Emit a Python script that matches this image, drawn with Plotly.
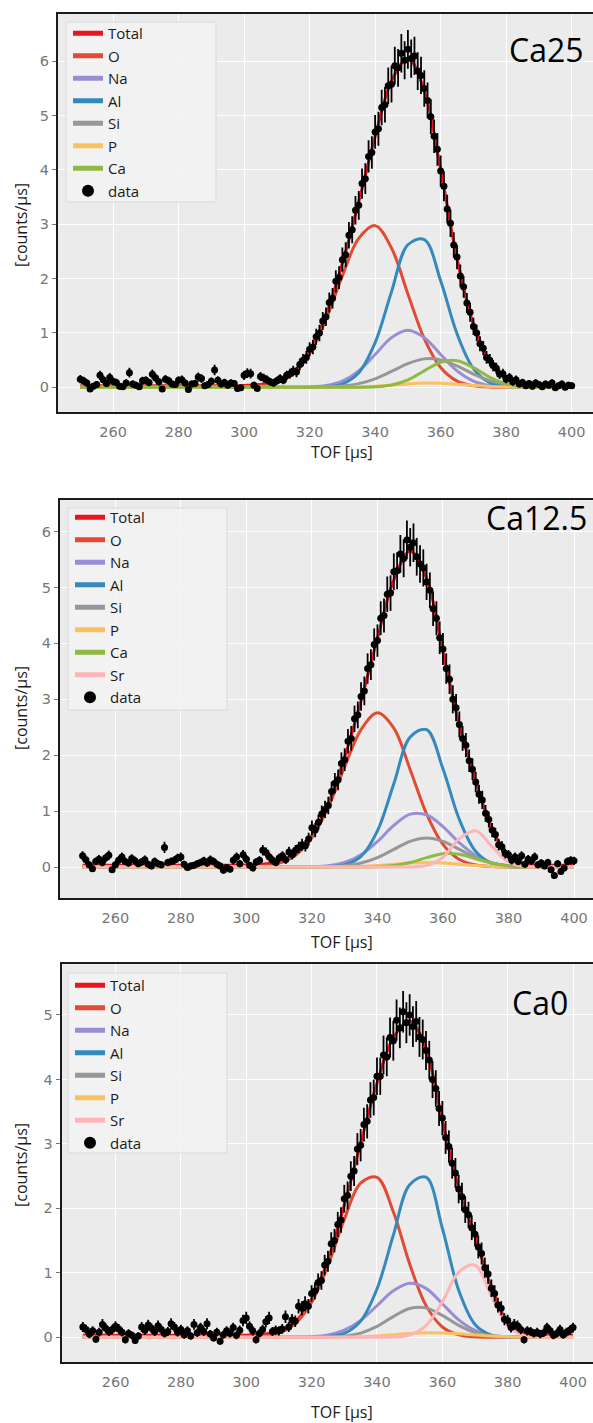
import numpy as np
import plotly.graph_objects as go

# ---------------- data ----------------
X_FIT = list(range(250, 401, 5))      # model curve grid, TOF [us]
X_DATA = list(range(250, 401, 1))     # measured bins, TOF [us]
Y_TICKS_1 = [0, 1, 2, 3, 4, 5, 6]
Y_TICKS_3 = [0, 1, 2, 3, 4, 5]
X_TICKS = [260, 280, 300, 320, 340, 360, 380, 400]
BASELINE = 0.03

Z10 = [0, 0, 0, 0, 0, 0, 0, 0, 0, 0]  # 250..295

# ---- Ca25 ----
ca25_O = Z10 + [0.005, 0.022, 0.082, 0.250, 0.619, 1.250, 2.052, 2.741, 2.976, 2.562, 1.718,
                0.896, 0.364, 0.115, 0.029, 0.006, 0.001, 0, 0, 0, 0]
ca25_Na = Z10 + [0, 0, 0.0001, 0.0012, 0.0072, 0.0329, 0.1145, 0.3019, 0.6034, 0.9142, 1.05,
                 0.9142, 0.6034, 0.3019, 0.1145, 0.0329, 0.0072, 0.0012, 0.0001, 0, 0]
ca25_Al = Z10 + [0, 0, 0, 0, 0.001, 0.0095, 0.0602, 0.2668, 0.8213, 1.760, 2.623,
                 2.720, 1.962, 0.9848, 0.3438, 0.0835, 0.0141, 0.0017, 0.0001, 0, 0]
ca25_Si = Z10 + [0, 0, 0, 0.0003, 0.0015, 0.0066, 0.0236, 0.0678, 0.1568, 0.2915, 0.4357,
                 0.5233, 0.5054, 0.3923, 0.2448, 0.1228, 0.0495, 0.0161, 0.0042, 0.0009, 0.0001]
ca25_P = Z10 + [0, 0, 0, 0, 0, 0.0005, 0.0021, 0.0071, 0.0189, 0.0389, 0.0626,
                0.0784, 0.0765, 0.0581, 0.0344, 0.0158, 0.0057, 0.0016, 0.0003, 0, 0]
ca25_Ca = Z10 + [0, 0, 0, 0, 0, 0, 0.0002, 0.0015, 0.0097, 0.044, 0.1385,
                 0.3033, 0.462, 0.4896, 0.361, 0.1852, 0.0661, 0.0164, 0.0028, 0.0003, 0]
ca25_data = [
    0.15, 0.12, 0.08, -0.03, 0.02, 0.05, 0.22, 0.14, 0.07, 0.18,
    0.11, 0.09, 0.02, 0.01, 0.08, 0.27, 0.06, 0.04, 0.01, 0.12,
    0.13, 0.09, 0.24, 0.17, 0.10, -0.03, 0.15, 0.12, 0.06, 0.05,
    0.13, 0.14, 0.08, -0.04, 0.06, 0.07, 0.19, 0.16, 0.03, 0.05,
    0.11, 0.32, 0.13, 0.06, 0.09, 0.04, 0.08, 0.07, -0.02, -0.01,
    0.22, 0.26, 0.25, 0.04, -0.02, 0.20, 0.17, 0.14, 0.10, 0.08,
    0.12, 0.16, 0.13, 0.22, 0.25, 0.30, 0.28, 0.42, 0.50, 0.55,
    0.70, 0.74, 0.93, 1.00, 1.22, 1.30, 1.56, 1.64, 1.95, 2.02,
    2.35, 2.44, 2.80, 2.90, 3.26, 3.35, 3.75, 3.84, 4.25, 4.32,
    4.70, 4.76, 5.15, 5.20, 5.55, 5.58, 5.92, 5.88, 6.15, 6.02,
    6.22, 6.05, 6.10, 5.82, 5.74, 5.50, 5.28, 4.98, 4.62, 4.38,
    3.98, 3.70, 3.28, 3.02, 2.62, 2.40, 2.05, 1.85, 1.55, 1.38,
    1.12, 1.00, 0.80, 0.72, 0.55, 0.50, 0.40, 0.35, 0.24, 0.25,
    0.15, 0.18, 0.10, 0.14, 0.06, 0.09, 0.03, 0.07, 0.02, 0.08,
    0.05, 0.01, 0.06, 0.04, 0.08, -0.01, 0.03, 0.06, 0.00, 0.04,
    0.03]

# ---- Ca12.5 ----
ca12_O = Z10 + [0.0041, 0.0187, 0.0693, 0.2109, 0.5255, 1.072, 1.793, 2.457, 2.758, 2.483, 1.741,
                0.9505, 0.4043, 0.1339, 0.0345, 0.0069, 0.0011, 0, 0, 0, 0]
ca12_Na = Z10 + [0, 0, 0.0001, 0.0009, 0.0053, 0.0234, 0.0807, 0.217, 0.455, 0.743, 0.945,
                 0.935, 0.721, 0.433, 0.2025, 0.0738, 0.021, 0.0046, 0.0008, 0.0001, 0]
ca12_Al = Z10 + [0, 0, 0, 0, 0.0005, 0.005, 0.0376, 0.1895, 0.6461, 1.490, 2.326,
                 2.457, 1.756, 0.8493, 0.2779, 0.0615, 0.0092, 0.0009, 0.0001, 0, 0]
ca12_Si = Z10 + [0, 0, 0, 0.0002, 0.0011, 0.0058, 0.0228, 0.0704, 0.1688, 0.3154, 0.4589,
                 0.52, 0.4589, 0.3154, 0.1688, 0.0704, 0.0228, 0.0058, 0.0011, 0.0002, 0]
ca12_P = Z10 + [0, 0, 0, 0, 0, 0.0009, 0.0035, 0.0108, 0.026, 0.0485, 0.0706,
                0.08, 0.0706, 0.0485, 0.026, 0.0108, 0.0035, 0.0009, 0.0002, 0, 0]
ca12_Ca = Z10 + [0, 0, 0, 0, 0, 0, 0.0001, 0.0008, 0.0056, 0.0256, 0.0796,
                 0.167, 0.2374, 0.2284, 0.1486, 0.0655, 0.0195, 0.0039, 0.0005, 0.0001, 0]
ca12_Sr = Z10 + [0, 0, 0, 0, 0, 0, 0, 0, 0, 0, 0.0017,
                 0.0259, 0.173, 0.507, 0.649, 0.364, 0.0893, 0.0096, 0.0004, 0, 0]
ca12_data = [
    0.20, 0.13, 0.04, -0.03, 0.10, 0.14, 0.08, 0.16, 0.21, -0.05,
    0.04, 0.12, 0.18, 0.10, 0.07, 0.15, 0.11, 0.06, 0.09, 0.13,
    0.05, 0.02, 0.10, 0.06, 0.04, 0.35, 0.08, 0.10, 0.12, 0.16,
    0.18, 0.05, -0.01, 0.02, 0.03, 0.06, 0.08, 0.11, 0.07, 0.13,
    0.10, 0.05, 0.02, -0.06, -0.01, -0.04, 0.12, 0.18, 0.06, 0.22,
    0.14, 0.03, -0.02, 0.09, 0.12, 0.30, 0.26, 0.18, 0.12, 0.08,
    0.16, 0.20, 0.13, 0.27, 0.22, 0.30, 0.35, 0.40, 0.38, 0.50,
    0.70, 0.66, 0.80, 0.95, 1.03, 1.10, 1.35, 1.50, 1.56, 1.85,
    1.92, 2.25, 2.30, 2.65, 2.72, 3.05, 3.15, 3.55, 3.62, 3.98,
    4.05, 4.45, 4.50, 4.88, 4.90, 5.28, 5.30, 5.60, 5.52, 5.85,
    5.72, 5.80, 5.55, 5.42, 5.35, 5.10, 4.95, 4.62, 4.45, 4.10,
    3.90, 3.55, 3.36, 3.00, 2.85, 2.55, 2.30, 2.18, 1.90, 1.75,
    1.52, 1.30, 1.20, 0.96, 0.85, 0.66, 0.58, 0.40, 0.36, 0.24,
    0.22, 0.12, 0.18, 0.10, 0.20, 0.05, 0.14, 0.11, 0.18, 0.04,
    0.07, 0.02, 0.08, -0.05, -0.15, 0.06, -0.08, -0.02, 0.10, 0.12,
    0.11]

# ---- Ca0 ----
ca0_O = Z10 + [0.0031, 0.016, 0.065, 0.2104, 0.5426, 1.116, 1.830, 2.391, 2.482, 1.948, 1.138,
               0.495, 0.160, 0.0386, 0.0069, 0.0009, 0, 0, 0, 0, 0]
ca0_Na = Z10 + [0, 0, 0.0003, 0.0021, 0.0099, 0.0372, 0.1113, 0.2626, 0.4895, 0.7206, 0.838,
                0.7583, 0.5202, 0.2706, 0.1067, 0.0319, 0.0072, 0.0012, 0.0002, 0, 0]
ca0_Al = Z10 + [0, 0, 0, 0, 0.0012, 0.010, 0.0595, 0.2512, 0.7497, 1.583, 2.365,
                2.484, 1.692, 0.7306, 0.1997, 0.0346, 0.0038, 0.0003, 0, 0, 0]
ca0_Si = Z10 + [0, 0, 0, 0.0001, 0.0006, 0.0037, 0.0182, 0.0649, 0.1688, 0.3214, 0.4475,
                0.456, 0.34, 0.1855, 0.074, 0.0216, 0.0046, 0.0007, 0.0001, 0, 0]
ca0_P = Z10 + [0, 0, 0, 0, 0.0002, 0.001, 0.0034, 0.0095, 0.0212, 0.0386, 0.0572,
               0.0689, 0.0674, 0.0537, 0.0348, 0.0184, 0.0079, 0.0027, 0.0008, 0.0002, 0]
ca0_Sr = Z10 + [0, 0, 0, 0, 0, 0, 0, 0, 0.0003, 0.0044, 0.0361,
                0.1808, 0.5489, 1.010, 1.118, 0.6406, 0.1796, 0.0247, 0.0017, 0, 0]
ca0_data = [
    0.16, 0.12, 0.05, 0.10, -0.03, 0.08, 0.20, 0.14, 0.09, 0.12,
    0.17, 0.13, 0.08, -0.04, 0.06, 0.03, -0.05, 0.02, 0.16, 0.11,
    0.19, 0.14, 0.09, 0.18, 0.12, 0.06, 0.09, 0.21, 0.16, 0.08,
    0.12, 0.04, 0.10, 0.02, 0.20, 0.07, 0.15, 0.09, 0.21, 0.05,
    -0.01, 0.08, -0.06, 0.04, 0.10, 0.06, 0.15, 0.03, 0.11, 0.26,
    0.30, 0.17, 0.10, -0.04, 0.06, 0.12, 0.24, 0.30, 0.09, 0.11,
    0.10, 0.13, 0.32, 0.16, 0.27, 0.25, 0.48, 0.45, 0.52, 0.48,
    0.68, 0.72, 0.85, 0.88, 1.12, 1.18, 1.45, 1.50, 1.75, 1.82,
    2.15, 2.20, 2.50, 2.58, 2.92, 2.98, 3.30, 3.35, 3.68, 3.72,
    4.05, 4.05, 4.38, 4.35, 4.65, 4.60, 4.92, 4.80, 5.05, 4.88,
    5.00, 4.82, 4.90, 4.66, 4.62, 4.45, 4.30, 4.00, 3.86, 3.55,
    3.40, 3.10, 2.96, 2.70, 2.55, 2.30, 2.18, 1.98, 1.90, 1.70,
    1.60, 1.40, 1.30, 1.08, 0.98, 0.76, 0.68, 0.50, 0.45, 0.28,
    0.26, 0.15, 0.20, 0.18, 0.12, -0.04, 0.10, 0.09, 0.06, 0.08,
    0.05, 0.07, 0.15, 0.10, 0.03, 0.06, 0.12, 0.04, 0.08, 0.11,
    0.15]

# Poisson-like uncertainty of the measured counts
ERR_GAIN = 0.02
ERR_FLOOR = 0.003

# ---------------- styling ----------------
W, H = 593, 1423
COLORS = {
    'Total': '#E8151F', 'O': '#E24A33', 'Na': '#988ED5', 'Al': '#348ABD',
    'Si': '#979797', 'P': '#FBC15E', 'Ca': '#8EBA42', 'Sr': '#FFB5B8',
}
TXT = '#1a1a1a'
TICK_COL = '#777777'
SANS = 'Open Sans'

panels = [
    dict(label='Ca25', comps=[('O', ca25_O), ('Na', ca25_Na), ('Al', ca25_Al), ('Si', ca25_Si),
                              ('P', ca25_P), ('Ca', ca25_Ca)],
         data=ca25_data, xpx=(58, 593), ypx=(14, 412.3), xr=(243.2, 406.5), yr=(-0.46, 6.871),
         yt=Y_TICKS_1, leg_box=(66, 22, 216, 202), leg_xy=(68, 17),
         lab_xy=(546, 49), xt_y=452, yt_y=225),
    dict(label='Ca12.5', comps=[('O', ca12_O), ('Na', ca12_Na), ('Al', ca12_Al), ('Si', ca12_Si),
                                ('P', ca12_P), ('Ca', ca12_Ca), ('Sr', ca12_Sr)],
         data=ca12_data, xpx=(60, 593), ypx=(500, 898.3), xr=(243.1, 405.8), yr=(-0.56, 6.565),
         yt=Y_TICKS_1, leg_box=(68, 508, 227, 710), leg_xy=(70, 501),
         lab_xy=(536, 517), xt_y=942, yt_y=708),
    dict(label='Ca0', comps=[('O', ca0_O), ('Na', ca0_Na), ('Al', ca0_Al), ('Si', ca0_Si),
                             ('P', ca0_P), ('Sr', ca0_Sr)],
         data=ca0_data, xpx=(61.6, 593), ypx=(964, 1362.3), xr=(243.5, 406.1), yr=(-0.388, 5.791),
         yt=Y_TICKS_3, leg_box=(68, 973, 227, 1153), leg_xy=(70, 969),
         lab_xy=(540, 1002), xt_y=1412, yt_y=1165),
]

fig = go.Figure()
layout = dict(width=W, height=H, margin=dict(l=0, r=0, t=0, b=0),
              paper_bgcolor='white', plot_bgcolor='#EBEBEB', showlegend=True,
              shapes=[], annotations=[])

for i, p in enumerate(panels):
    sfx = '' if i == 0 else str(i + 1)
    xa, ya, leg = 'x' + sfx, 'y' + sfx, 'legend' + sfx
    comp_arrays = [np.array(v, dtype=float) for _, v in p['comps']]
    total = np.sum(comp_arrays, axis=0) + BASELINE

    fig.add_trace(go.Scatter(x=X_FIT, y=total, mode='lines', name='Total',
                             line=dict(color=COLORS['Total'], width=3, shape='spline'),
                             xaxis=xa, yaxis=ya, legend=leg))
    for name, vals in p['comps']:
        fig.add_trace(go.Scatter(x=X_FIT, y=vals, mode='lines', name=name,
                                 line=dict(color=COLORS[name], width=3, shape='spline'),
                                 xaxis=xa, yaxis=ya, legend=leg))
    yd = np.array(p['data'], dtype=float)
    err = np.sqrt(ERR_GAIN * np.clip(yd, 0, None) + ERR_FLOOR)
    fig.add_trace(go.Scatter(x=X_DATA, y=yd, mode='markers', name='data',
                             marker=dict(color='black', size=7),
                             error_y=dict(type='data', array=err, color='black',
                                          thickness=1.8, width=0),
                             xaxis=xa, yaxis=ya, legend=leg))

    x0, x1 = p['xpx']
    y0, y1 = p['ypx']
    layout['xaxis' + sfx] = dict(
        domain=[x0 / W, x1 / W], range=list(p['xr']), anchor=ya,
        tickvals=X_TICKS, ticks='outside', ticklen=5, tickcolor='white',
        tickfont=dict(family='DejaVu Sans', size=14.5, color=TICK_COL),
        showgrid=True, gridcolor='white', gridwidth=1.3, zeroline=False,
        showline=True, linecolor=TXT, linewidth=2, mirror=True)
    layout['yaxis' + sfx] = dict(
        domain=[1 - y1 / H, 1 - y0 / H], range=list(p['yr']), anchor=xa,
        tickvals=p['yt'], ticks='outside', ticklen=4, tickcolor=TICK_COL, tickwidth=1,
        tickfont=dict(family='DejaVu Sans', size=14.5, color=TICK_COL),
        showgrid=True, gridcolor='white', gridwidth=1.3, zeroline=False,
        showline=True, linecolor=TXT, linewidth=2)

    bx0, by0, bx1, by1 = p['leg_box']
    layout['shapes'].append(dict(type='rect', xref='paper', yref='paper',
                                 x0=bx0 / W, x1=bx1 / W, y0=1 - by1 / H, y1=1 - by0 / H,
                                 fillcolor='rgba(243,243,243,0.85)',
                                 line=dict(color='#DADADA', width=1), layer='above'))
    lx, ly = p['leg_xy']
    layout[leg] = dict(x=lx / W, y=1 - ly / H, xanchor='left', yanchor='top',
                       bgcolor='rgba(0,0,0,0)', borderwidth=0, tracegroupgap=0,
                       font=dict(family=SANS, size=15, color=TXT), itemsizing='constant')

    ax_, ay_ = p['lab_xy']
    layout['annotations'].append(dict(text=p['label'], xref='paper', yref='paper',
                                      x=ax_ / W, y=1 - ay_ / H, xanchor='center', yanchor='middle',
                                      showarrow=False, font=dict(family=SANS, size=32, color='black')))
    layout['annotations'].append(dict(text='TOF [µs]', xref='paper', yref='paper',
                                      x=342 / W, y=1 - p['xt_y'] / H, xanchor='center',
                                      yanchor='middle', showarrow=False,
                                      font=dict(family=SANS, size=16, color=TXT)))
    layout['annotations'].append(dict(text='[counts/µs]', xref='paper', yref='paper',
                                      x=21 / W, y=1 - p['yt_y'] / H, xanchor='center',
                                      yanchor='middle', textangle=-90, showarrow=False,
                                      font=dict(family=SANS, size=16, color=TXT)))

fig.update_layout(**layout)
fig.write_html('out.html',
               config={'displayModeBar': False},
               post_script="document.body.style.margin='0';document.body.style.padding='0';"
                           "document.documentElement.style.overflow='hidden';"
                           "document.body.style.overflow='hidden';")
